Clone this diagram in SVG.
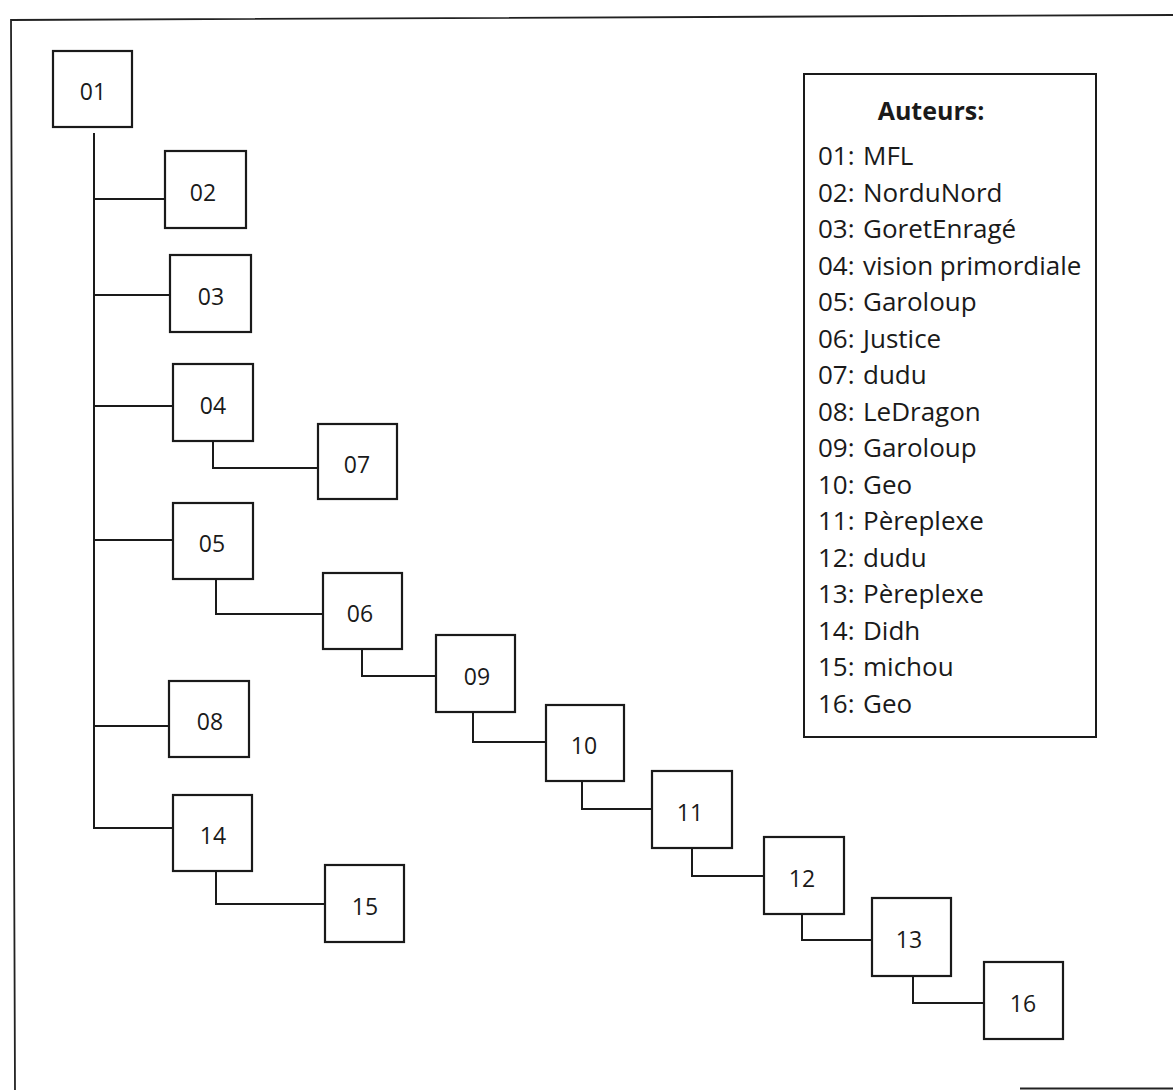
<svg xmlns="http://www.w3.org/2000/svg" width="1173" height="1090" viewBox="0 0 1173 1090">
  <style>
    .box { fill: #ffffff; stroke: #1a1a1a; stroke-width: 2.2; }
    .lbl { font-family: "Open Sans", "Noto Sans", sans-serif; font-size: 23px; font-weight: 500; fill: #1a1a1a; text-anchor: middle; }
    .wire { fill: none; stroke: #1a1a1a; stroke-width: 2; }
    .frame { fill: none; stroke: #222222; stroke-width: 1.8; }
    .legend-box { fill: #ffffff; stroke: #1a1a1a; stroke-width: 2; }
    .legend-title { font-family: "Open Sans", "Noto Sans", sans-serif; font-size: 25px; font-weight: bold; fill: #1a1a1a; text-anchor: middle; }
    .legend { font-family: "Open Sans", "Noto Sans", sans-serif; font-size: 26px; font-weight: 500; fill: #1a1a1a; }
  </style>
  <rect x="0" y="0" width="1173" height="1090" fill="#ffffff"/>

  <!-- page frame -->
  <g id="frame">
    <polyline class="frame" points="15,1090 11,20 1173,15"/>
    <line class="frame" x1="1020" y1="1088.5" x2="1173" y2="1088.5" stroke="#555555"/>
  </g>

  <!-- tree connectors -->
  <g id="connectors">
    <line class="wire" x1="94" y1="133" x2="94" y2="829"/>
    <line class="wire" x1="94" y1="199" x2="165" y2="199"/>
    <line class="wire" x1="94" y1="295" x2="170" y2="295"/>
    <line class="wire" x1="94" y1="406" x2="173" y2="406"/>
    <line class="wire" x1="94" y1="540" x2="173" y2="540"/>
    <line class="wire" x1="94" y1="726" x2="169" y2="726"/>
    <line class="wire" x1="94" y1="828" x2="173" y2="828"/>
    <polyline class="wire" points="213,441 213,468 318,468"/>
    <polyline class="wire" points="216,579 216,614 323,614"/>
    <polyline class="wire" points="362,649 362,676 436,676"/>
    <polyline class="wire" points="473,712 473,742 546,742"/>
    <polyline class="wire" points="582,781 582,809 652,809"/>
    <polyline class="wire" points="692,848 692,876 764,876"/>
    <polyline class="wire" points="802,914 802,940 872,940"/>
    <polyline class="wire" points="913,976 913,1003 984,1003"/>
    <polyline class="wire" points="216,871 216,904 325,904"/>
  </g>

  <!-- post boxes -->
  <g id="n01"><rect class="box" x="53" y="51" width="79" height="76"/><text class="lbl" x="93" y="100">01</text></g>
  <g id="n02"><rect class="box" x="165" y="151" width="81" height="77"/><text class="lbl" x="203" y="201">02</text></g>
  <g id="n03"><rect class="box" x="170" y="255" width="81" height="77"/><text class="lbl" x="211" y="305">03</text></g>
  <g id="n04"><rect class="box" x="173" y="364" width="80" height="77"/><text class="lbl" x="213" y="414">04</text></g>
  <g id="n07"><rect class="box" x="318" y="424" width="79" height="75"/><text class="lbl" x="357" y="473">07</text></g>
  <g id="n05"><rect class="box" x="173" y="503" width="80" height="76"/><text class="lbl" x="212" y="552">05</text></g>
  <g id="n06"><rect class="box" x="323" y="573" width="79" height="76"/><text class="lbl" x="360" y="622">06</text></g>
  <g id="n08"><rect class="box" x="169" y="681" width="80" height="76"/><text class="lbl" x="210" y="730">08</text></g>
  <g id="n14"><rect class="box" x="173" y="795" width="79" height="76"/><text class="lbl" x="213" y="844">14</text></g>
  <g id="n15"><rect class="box" x="325" y="865" width="79" height="77"/><text class="lbl" x="365" y="915">15</text></g>
  <g id="n09"><rect class="box" x="436" y="635" width="79" height="77"/><text class="lbl" x="477" y="685">09</text></g>
  <g id="n10"><rect class="box" x="546" y="705" width="78" height="76"/><text class="lbl" x="584" y="754">10</text></g>
  <g id="n11"><rect class="box" x="652" y="771" width="80" height="77"/><text class="lbl" x="690" y="821">11</text></g>
  <g id="n12"><rect class="box" x="764" y="837" width="80" height="77"/><text class="lbl" x="802" y="887">12</text></g>
  <g id="n13"><rect class="box" x="872" y="898" width="79" height="78"/><text class="lbl" x="909" y="948">13</text></g>
  <g id="n16"><rect class="box" x="984" y="962" width="79" height="77"/><text class="lbl" x="1023" y="1012">16</text></g>

  <!-- author legend -->
  <g id="legend">
    <rect class="legend-box" x="804" y="74" width="292" height="663"/>
    <text class="legend-title" x="931" y="120">Auteurs:</text>
    <text class="legend" y="165"><tspan x="818">01:</tspan><tspan x="863">MFL</tspan></text>
    <text class="legend" y="201.5"><tspan x="818">02:</tspan><tspan x="863">NorduNord</tspan></text>
    <text class="legend" y="238"><tspan x="818">03:</tspan><tspan x="863">GoretEnragé</tspan></text>
    <text class="legend" y="274.5"><tspan x="818">04:</tspan><tspan x="863">vision primordiale</tspan></text>
    <text class="legend" y="311"><tspan x="818">05:</tspan><tspan x="863">Garoloup</tspan></text>
    <text class="legend" y="347.5"><tspan x="818">06:</tspan><tspan x="863">Justice</tspan></text>
    <text class="legend" y="384"><tspan x="818">07:</tspan><tspan x="863">dudu</tspan></text>
    <text class="legend" y="420.5"><tspan x="818">08:</tspan><tspan x="863">LeDragon</tspan></text>
    <text class="legend" y="457"><tspan x="818">09:</tspan><tspan x="863">Garoloup</tspan></text>
    <text class="legend" y="493.5"><tspan x="818">10:</tspan><tspan x="863">Geo</tspan></text>
    <text class="legend" y="530"><tspan x="818">11:</tspan><tspan x="863">Pèreplexe</tspan></text>
    <text class="legend" y="566.5"><tspan x="818">12:</tspan><tspan x="863">dudu</tspan></text>
    <text class="legend" y="603"><tspan x="818">13:</tspan><tspan x="863">Pèreplexe</tspan></text>
    <text class="legend" y="639.5"><tspan x="818">14:</tspan><tspan x="863">Didh</tspan></text>
    <text class="legend" y="676"><tspan x="818">15:</tspan><tspan x="863">michou</tspan></text>
    <text class="legend" y="712.5"><tspan x="818">16:</tspan><tspan x="863">Geo</tspan></text>
  </g>
</svg>
